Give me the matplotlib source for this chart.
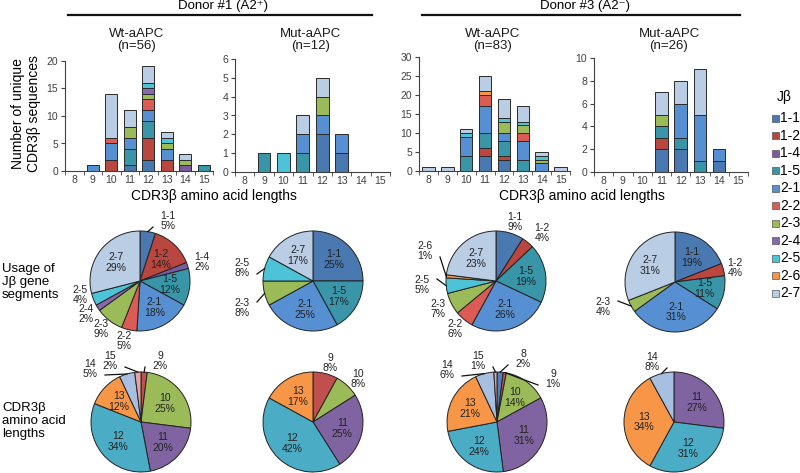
import numpy as np
import matplotlib
matplotlib.use("Agg")
import matplotlib.pyplot as plt

plt.rcParams['font.family'] = ['Liberation Sans', 'DejaVu Sans']

W, H = 800, 473

lengths = [8, 9, 10, 11, 12, 13, 14, 15]
jb_segments = ['1-1', '1-2', '1-4', '1-5', '2-1', '2-2', '2-3', '2-4', '2-5', '2-6', '2-7']
jb_colors = ['#4a78b0', '#b9463f', '#7a5c9e', '#3896a8', '#5690d2', '#dc5c55',
             '#9bbb59', '#8668ad', '#4cc3d6', '#f79646', '#b9cde5']
len_colors = {8: '#4f81bd', 9: '#c0504d', 10: '#9bbb59', 11: '#8064a2',
              12: '#4bacc6', 13: '#f79646', 14: '#a7bfe0', 15: '#e3a3a1'}

# stacked bars: number of sequences per J-beta segment for lengths 8..15
d1_wt_bars = {
    '1-1': [0, 0, 0, 1, 2, 0, 0, 0],
    '1-2': [0, 0, 2, 0, 4, 2, 0, 0],
    '1-4': [0, 0, 0, 0, 0, 0, 1, 0],
    '1-5': [0, 0, 0, 3, 3, 0, 0, 1],
    '2-1': [0, 1, 3, 2, 2, 2, 0, 0],
    '2-2': [0, 0, 1, 0, 2, 0, 0, 0],
    '2-3': [0, 0, 0, 2, 1, 1, 1, 0],
    '2-4': [0, 0, 0, 0, 1, 0, 0, 0],
    '2-5': [0, 0, 0, 0, 1, 1, 0, 0],
    '2-7': [0, 0, 8, 3, 3, 1, 1, 0],
}
d1_mut_bars = {
    '1-1': [0, 0, 0, 0, 2, 1, 0, 0],
    '1-5': [0, 1, 0, 1, 0, 0, 0, 0],
    '2-1': [0, 0, 0, 1, 1, 1, 0, 0],
    '2-3': [0, 0, 0, 0, 1, 0, 0, 0],
    '2-5': [0, 0, 1, 0, 0, 0, 0, 0],
    '2-7': [0, 0, 0, 1, 1, 0, 0, 0],
}
d3_wt_bars = {
    '1-1': [0, 0, 0, 4, 3, 0, 0, 0],
    '1-2': [0, 0, 0, 2, 1, 0, 0, 0],
    '1-5': [0, 0, 4, 4, 4, 3, 0, 0],
    '2-1': [0, 0, 5, 7, 2, 5, 2, 0],
    '2-2': [0, 0, 0, 3, 0, 2, 0, 0],
    '2-3': [0, 0, 0, 0, 3, 2, 1, 0],
    '2-5': [0, 0, 1, 0, 1, 1, 1, 0],
    '2-6': [0, 0, 0, 1, 0, 0, 0, 0],
    '2-7': [1, 1, 1, 4, 5, 4, 1, 1],
}
d3_mut_bars = {
    '1-1': [0, 0, 0, 2, 2, 0, 1, 0],
    '1-2': [0, 0, 0, 1, 0, 0, 0, 0],
    '1-5': [0, 0, 0, 1, 1, 1, 0, 0],
    '2-1': [0, 0, 0, 0, 3, 4, 1, 0],
    '2-3': [0, 0, 0, 1, 0, 0, 0, 0],
    '2-7': [0, 0, 0, 2, 2, 4, 0, 0],
}

# pie percentages as printed
d1_wt_jb = {'1-1': 5, '1-2': 14, '1-4': 2, '1-5': 12, '2-1': 18, '2-2': 5,
            '2-3': 9, '2-4': 2, '2-5': 4, '2-7': 29}
d1_mut_jb = {'1-1': 25, '1-5': 17, '2-1': 25, '2-3': 8, '2-5': 8, '2-7': 17}
d3_wt_jb = {'1-1': 9, '1-2': 4, '1-5': 19, '2-1': 26, '2-2': 6, '2-3': 7,
            '2-5': 5, '2-6': 1, '2-7': 23}
d3_mut_jb = {'1-1': 19, '1-2': 4, '1-5': 11, '2-1': 31, '2-3': 4, '2-7': 31}

d1_wt_len = {9: 2, 10: 25, 11: 20, 12: 34, 13: 12, 14: 5, 15: 2}
d1_mut_len = {9: 8, 10: 8, 11: 25, 12: 42, 13: 17}
d3_wt_len = {8: 2, 9: 1, 10: 14, 11: 31, 12: 24, 13: 21, 14: 6, 15: 1}
d3_mut_len = {11: 27, 12: 31, 13: 34, 14: 8}

fig = plt.figure(figsize=(8, 4.73), dpi=100)

# overlay axes in pixel units for headers and row labels
over = fig.add_axes([0, 0, 1, 1])
over.set_xlim(0, W)
over.set_ylim(H, 0)
over.axis('off')


def px_rect(x0, y0, x1, y1):
    return [x0 / W, 1 - y1 / H, (x1 - x0) / W, (y1 - y0) / H]


def draw_bars(rect, bars, ymax, ystep, title):
    ax = fig.add_axes(px_rect(*rect))
    x = np.arange(len(lengths))
    bottom = np.zeros(len(lengths))
    for seg, col in zip(jb_segments, jb_colors):
        if seg not in bars:
            continue
        vals = np.array(bars[seg], dtype=float)
        m = vals > 0
        ax.bar(x[m], vals[m], 0.66, bottom=bottom[m], color=col,
               edgecolor='#2a2a2a', linewidth=0.7)
        bottom += vals
    ax.set_xlim(-0.5, len(lengths) - 0.5)
    ax.set_ylim(0, ymax)
    ax.set_yticks(np.arange(0, ymax + 0.1, ystep))
    ax.set_xticks(x, [str(v) for v in lengths])
    ax.set_xticks(np.arange(-0.5, len(lengths), 1), minor=True)
    ax.tick_params(axis='x', which='major', length=0, labelsize=7.5,
                   labelcolor='#404040', pad=3)
    ax.tick_params(axis='x', which='minor', length=3, direction='out',
                   color='#404040')
    ax.tick_params(axis='y', length=3, direction='out', color='#404040',
                   labelsize=7.5, labelcolor='#404040', pad=2)
    for s in ['top', 'right']:
        ax.spines[s].set_visible(False)
    for s in ['left', 'bottom']:
        ax.spines[s].set_color('#404040')
        ax.spines[s].set_linewidth(0.8)
    ax.set_facecolor('none')
    cx = (rect[0] + rect[2]) / 2
    over.text(cx - 2, 40, title, ha='center', va='center', fontsize=9.5,
              linespacing=1.1, color='#1a1a1a')
    return ax


draw_bars((65, 61, 213, 171), d1_wt_bars, 20, 5, 'Wt-aAPC\n(n=56)')
draw_bars((235, 59, 390, 172), d1_mut_bars, 6, 1, 'Mut-aAPC\n(n=12)')
draw_bars((419, 57, 570, 171), d3_wt_bars, 30, 5, 'Wt-aAPC\n(n=83)')
draw_bars((594, 58, 748, 172), d3_mut_bars, 10, 2, 'Mut-aAPC\n(n=26)')

# headers
over.text(223, 6, 'Donor #1 (A2\u207a)', ha='center', va='center', fontsize=9.5)
over.plot([68, 372], [15, 15], color='#111111', lw=1.6)
over.text(585, 6, 'Donor #3 (A2\u207b)', ha='center', va='center', fontsize=9.5)
over.plot([422, 740], [15, 15], color='#111111', lw=1.6)

over.text(214, 196, 'CDR3\u03b2 amino acid lengths', ha='center', va='center', fontsize=10)
over.text(582, 196, 'CDR3\u03b2 amino acid lengths', ha='center', va='center', fontsize=10)
over.text(26, 114, 'Number of unique\nCDR3\u03b2 sequences', ha='center', va='center',
          rotation=90, fontsize=10, linespacing=1.1)

# legend
over.text(784, 97, 'J\u03b2', ha='center', va='center', fontsize=10)
for i, (seg, col) in enumerate(zip(jb_segments, jb_colors)):
    yy = 118 + 17.5 * i
    over.add_patch(plt.Rectangle((772, yy - 3.5), 7, 7, facecolor=col,
                                 edgecolor='#555555', lw=0.5))
    over.text(780, yy, seg, ha='left', va='center', fontsize=10)

# row labels
over.text(2, 282, 'Usage of\nJ\u03b2 gene\nsegments', ha='left', va='center',
          fontsize=9.5, linespacing=1.15)
over.text(2, 421, 'CDR3\u03b2\namino acid\nlengths', ha='left', va='center',
          fontsize=9.5, linespacing=1.15)


def draw_pie(cx, cy, data, colors, outside):
    R = 50
    half = 1.7 * R
    ax = fig.add_axes(px_rect(cx - half, cy - half, cx + half, cy + half))
    names = list(data.keys())
    vals = list(data.values())
    wedges, _ = ax.pie(vals, colors=colors, startangle=90, counterclock=False,
                       radius=1, wedgeprops=dict(edgecolor='#222222', linewidth=0.7))
    ax.set_xlim(-1.7, 1.7)
    ax.set_ylim(-1.7, 1.7)
    ax.set_aspect('equal')
    for w, name, p in zip(wedges, names, vals):
        ang = np.deg2rad((w.theta1 + w.theta2) / 2)
        ux, uy = np.cos(ang), np.sin(ang)
        label = f'{name}\n{p}%'
        if name in outside:
            lx, ly, lead = outside[name]
            ax.text(lx, ly, label, ha='center', va='center', fontsize=7.5,
                    linespacing=1.1, color='#222222')
            if lead:
                ex = lx - np.sign(lx) * 0.3
                ey = ly - 0.12 * np.sign(ly)
                ax.plot([ux * 1.0, ex], [uy * 1.0, ey], color='#111111',
                        lw=0.9, clip_on=False)
        else:
            ax.text(0.6 * ux, 0.6 * uy, label, ha='center', va='center',
                    fontsize=7.5, linespacing=1.1, color='#222222')
    return ax


jb_col = dict(zip(jb_segments, jb_colors))

draw_pie(140, 281, d1_wt_jb, [jb_col[k] for k in d1_wt_jb],
         {'1-1': (0.56, 1.2, True), '1-4': (1.24, 0.38, False),
          '2-2': (-0.32, -1.2, False), '2-3': (-0.78, -0.96, False),
          '2-4': (-1.08, -0.66, False), '2-5': (-1.2, -0.28, False)})
draw_pie(313, 281, d1_mut_jb, [jb_col[k] for k in d1_mut_jb],
         {'2-3': (-1.42, -0.54, True), '2-5': (-1.42, 0.26, True)})
draw_pie(496, 281, d3_wt_jb, [jb_col[k] for k in d3_wt_jb],
         {'1-1': (0.38, 1.18, False), '1-2': (0.92, 0.96, False),
          '2-2': (-0.82, -0.96, False), '2-3': (-1.16, -0.56, False),
          '2-5': (-1.48, -0.08, True), '2-6': (-1.42, 0.6, True)})
draw_pie(675, 282, d3_mut_jb, [jb_col[k] for k in d3_mut_jb],
         {'1-2': (1.2, 0.28, False), '2-3': (-1.44, -0.5, True)})

draw_pie(141, 422, d1_wt_len, [len_colors[k] for k in d1_wt_len],
         {9: (0.38, 1.22, True), 14: (-1.02, 1.06, True), 15: (-0.62, 1.22, True)})
draw_pie(313, 422, d1_mut_len, [len_colors[k] for k in d1_mut_len],
         {9: (0.34, 1.18, False), 10: (0.9, 0.86, False)})
draw_pie(497, 422, d3_wt_len, [len_colors[k] for k in d3_wt_len],
         {8: (0.52, 1.26, True), 9: (1.12, 0.86, True),
          14: (-1.0, 1.04, True), 15: (-0.38, 1.22, True)})
draw_pie(674, 422, d3_mut_len, [len_colors[k] for k in d3_mut_len],
         {14: (-0.44, 1.2, True)})

fig.savefig('out.png', dpi=100)
